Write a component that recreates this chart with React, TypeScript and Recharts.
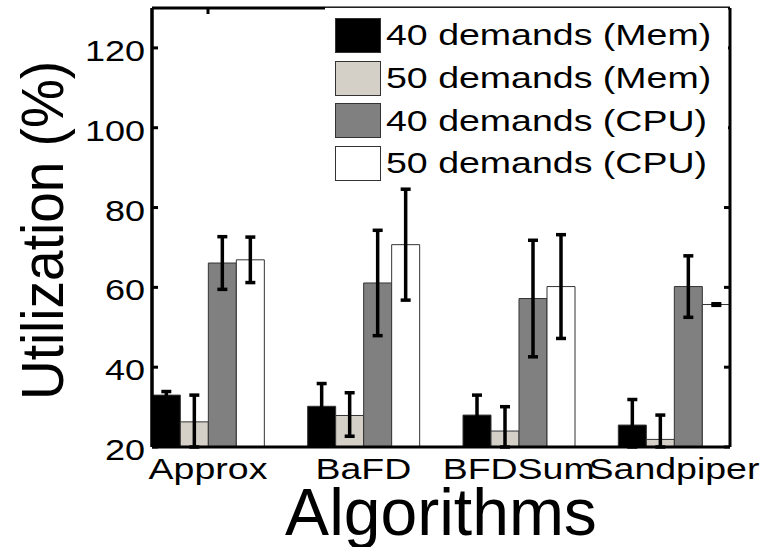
import { BarChart, Bar, XAxis, YAxis, ErrorBar, Legend } from 'recharts'

const FONT = '"Liberation Sans", Arial, Helvetica, sans-serif'

// groups are placed on a numeric x axis so the plot can start/stop mid-gap like the original
const categories = ['Approx', 'BaFD', 'BFDSum', 'Sandpiper']
const positions = [1, 2, 3, 4]
const yTicks = [20, 40, 60, 80, 100, 120]
const yDomain: [number, number] = [20, 130]

// bar heights, plus the visible lower / upper reach of each error bar
// (lower parts stop at the 20% floor of the axes, as in the original)
const mem40 = [33, 30.2, 28, 25.5]
const mem40Lo = [0.9, 5.7, 5, 5.5]
const mem40Hi = [0.9, 5.7, 5, 6.4]
const mem50 = [26.3, 27.9, 24, 21.9]
const mem50Lo = [6.3, 5.2, 4, 1.9]
const mem50Hi = [6.7, 5.7, 6.1, 6.1]
const cpu40 = [66.1, 61.1, 57.2, 60.2]
const cpu40Lo = [6.6, 13.2, 14.6, 7.7]
const cpu40Hi = [6.6, 13.2, 14.6, 7.7]
const cpu50 = [66.9, 70.7, 60.2, 55.7]
const cpu50Lo = [5.7, 13.9, 13, 0.2]
const cpu50Hi = [5.7, 13.9, 13, 0.2]

const series = [
  { key: 'mem40', name: '40 demands (Mem)', color: '#000000' },
  { key: 'mem50', name: '50 demands (Mem)', color: '#d4d0c8' },
  { key: 'cpu40', name: '40 demands (CPU)', color: '#808080' },
  { key: 'cpu50', name: '50 demands (CPU)', color: '#ffffff' },
]

const rows = categories.map((name, i) => ({
  x: positions[i],
  name,
  mem40: mem40[i],
  mem40Err: [mem40Lo[i], mem40Hi[i]],
  mem50: mem50[i],
  mem50Err: [mem50Lo[i], mem50Hi[i]],
  cpu40: cpu40[i],
  cpu40Err: [cpu40Lo[i], cpu40Hi[i]],
  cpu50: cpu50[i],
  cpu50Err: [cpu50Lo[i], cpu50Hi[i]],
}))

const xDomain: [number, number] = [0.6395, 4.3605]

function LeftTick({ x, y, payload }: any) {
  return (
    <g>
      <line x1={x} x2={x + 6} y1={y} y2={y} stroke="#000" strokeWidth={3} />
      <text
        transform={`translate(${x - 7},${y + 13}) scale(1.2,1)`}
        textAnchor="end"
        fontSize={30}
        fontFamily={FONT}
        fill="#000"
      >
        {payload.value}
      </text>
    </g>
  )
}

function RightTick({ x, y }: any) {
  return <line x1={x} x2={x - 6} y1={y} y2={y} stroke="#000" strokeWidth={3} />
}

function TopTick({ x, y }: any) {
  return <line x1={x} x2={x} y1={y} y2={y + 6} stroke="#000" strokeWidth={3} />
}

function BottomTick({ x, y, payload }: any) {
  const idx = positions.indexOf(payload.value)
  return (
    <text
      transform={`translate(${x},${y + 32}) scale(1.25,1)`}
      textAnchor="middle"
      fontSize={30}
      fontFamily={FONT}
      fill="#000"
    >
      {categories[idx] ?? ''}
    </text>
  )
}

function YLabel(props: any) {
  const vb = props.viewBox ?? { x: 0, y: 8, width: 152, height: 439 }
  return (
    <text
      transform={`translate(${vb.x + 63},${vb.y + vb.height / 2 + 3}) scale(1.09,1) rotate(-90)`}
      textAnchor="middle"
      fontSize={55}
      fontFamily={FONT}
      fill="#000"
    >
      Utilization (%)
    </text>
  )
}

function LegendBox({ payload }: any) {
  const items = [...(payload ?? [])].sort(
    (a: any, b: any) =>
      series.findIndex((s) => s.name === a.value) - series.findIndex((s) => s.name === b.value),
  )
  return (
    <div
      style={{
        background: '#fff',
        borderTop: '1px solid #222',
        width: 403,
        height: 179,
        paddingTop: 6,
        boxSizing: 'border-box',
        fontFamily: FONT,
      }}
    >
      {items.map((p: any) => {
        const s = series.find((it) => it.name === p.value)
        return (
          <div key={p.value} style={{ display: 'flex', alignItems: 'center', height: 42.7 }}>
            <span
              style={{
                display: 'inline-block',
                width: 46,
                height: 35,
                marginLeft: 10,
                background: s?.color ?? p.color,
                border: '1.5px solid #333',
                boxSizing: 'border-box',
              }}
            />
            <span
              style={{
                display: 'inline-block',
                marginLeft: 5,
                fontSize: 30,
                lineHeight: 1,
                color: '#000',
                whiteSpace: 'nowrap',
                transform: 'scaleX(1.25)',
                transformOrigin: 'left center',
              }}
            >
              {p.value}
            </span>
          </div>
        )
      })}
    </div>
  )
}

export default function App() {
  return (
    <div style={{ position: 'absolute', left: 0, top: 0, width: 771, height: 547, background: '#fff' }}>
      <BarChart
        width={771}
        height={547}
        data={rows}
        margin={{ top: 0, right: 40, bottom: 0, left: 0 }}
        barGap={0}
      >
        <XAxis
          dataKey="x"
          type="number"
          domain={xDomain}
          ticks={positions}
          allowDataOverflow
          height={100}
          axisLine={{ stroke: '#000', strokeWidth: 3 }}
          tickLine={false}
          tickSize={0}
          tickMargin={0}
          tick={<BottomTick />}
          label={{ value: 'Algorithms', position: 'insideBottom', offset: 12, fontSize: 66, fill: '#000', fontFamily: FONT }}
        />
        {/* top edge of the box; the legend hides all but the first tick */}
        <XAxis
          xAxisId="top"
          orientation="top"
          dataKey="x"
          type="number"
          domain={xDomain}
          ticks={positions}
          allowDataOverflow
          height={8}
          axisLine={{ stroke: '#000', strokeWidth: 3 }}
          tickLine={false}
          tickSize={0}
          tickMargin={0}
          tick={<TopTick />}
        />
        <YAxis
          domain={yDomain}
          ticks={yTicks}
          allowDataOverflow
          width={152}
          axisLine={{ stroke: '#000', strokeWidth: 3.5 }}
          tickLine={false}
          tickSize={0}
          tickMargin={0}
          tick={<LeftTick />}
          label={{ content: (p: any) => <YLabel {...p} /> }}
        />
        <YAxis
          yAxisId="right"
          orientation="right"
          domain={yDomain}
          ticks={yTicks}
          allowDataOverflow
          width={1}
          axisLine={{ stroke: '#000', strokeWidth: 3 }}
          tickLine={false}
          tickSize={0}
          tickMargin={0}
          tick={<RightTick />}
        />
        <Legend
          layout="horizontal"
          align="center"
          verticalAlign="middle"
          content={<LegendBox />}
          wrapperStyle={{ left: 325, top: 7, width: 403, height: 179 }}
        />
        {series.map((s) => (
          <Bar
            key={s.key}
            dataKey={s.key}
            name={s.name}
            fill={s.color}
            stroke="#333"
            strokeWidth={1}
            barSize={28}
            isAnimationActive={false}
          >
            <ErrorBar dataKey={`${s.key}Err`} width={5} stroke="#000" strokeWidth={3.5} direction="y" />
          </Bar>
        ))}
      </BarChart>
    </div>
  )
}
